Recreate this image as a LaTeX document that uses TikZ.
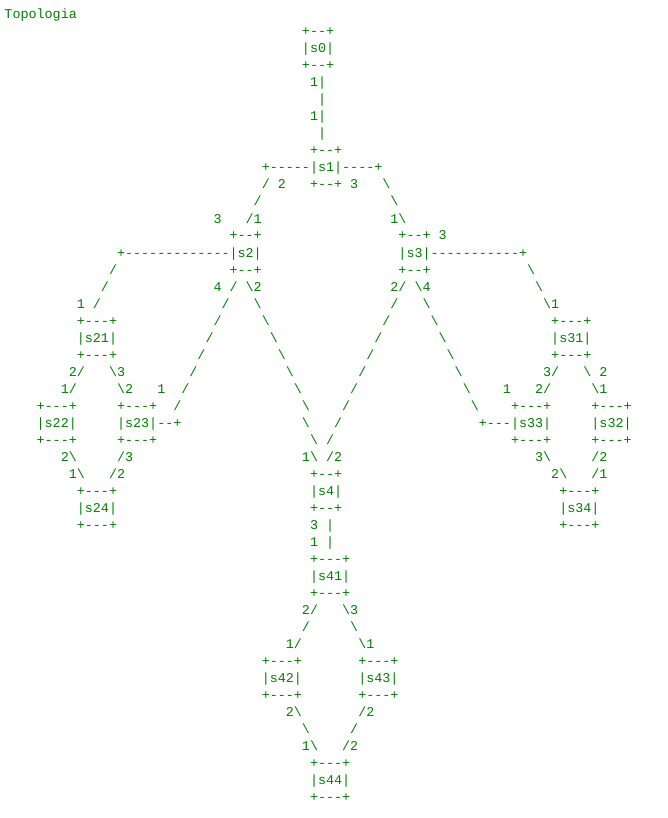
\documentclass[tikz,border=0pt]{standalone}
\usepackage{fontspec}
\setmonofont{Liberation Mono}
\definecolor{asciigreen}{RGB}{0,128,0}
\newcommand\bsl{\textbackslash}
\newcommand\putseg[4]{\node[asc] (#1) at (#2,#3) {#4};}
\tikzset{asc/.style={anchor=base west,inner sep=0pt,outer sep=0pt,text=asciigreen,
  font=\ttfamily\fontsize{13.4}{17}\selectfont}}
\begin{document}
\begin{tikzpicture}
\useasboundingbox[fill=white] (0pt,0pt) rectangle (667pt,-818pt);
\begin{scope}[x=8.04pt,y=-17pt,shift={(4.5pt,-19pt)}]
\putseg{t0}{0}{0}{Topologia}
\putseg{b0t}{37}{1}{+--+}
\putseg{s0}{37}{2}{|s0|}
\putseg{b0b}{37}{3}{+--+}
\putseg{n4}{38}{4}{1|}
\putseg{n5}{39}{5}{|}
\putseg{n6}{38}{6}{1|}
\putseg{n7}{39}{7}{|}
\putseg{b1t}{38}{8}{+--+}
\putseg{s1}{32}{9}{+-----|s1|----+}
\putseg{n10a}{32}{10}{/}
\putseg{n10b}{34}{10}{2}
\putseg{b1b}{38}{10}{+--+}
\putseg{n10c}{43}{10}{3}
\putseg{n10d}{47}{10}{\bsl}
\putseg{n11a}{31}{11}{/}
\putseg{n11b}{48}{11}{\bsl}
\putseg{n12a}{26}{12}{3}
\putseg{n12b}{30}{12}{/1}
\putseg{n12c}{48}{12}{1\bsl}
\putseg{b2t}{28}{13}{+--+}
\putseg{b3t}{49}{13}{+--+}
\putseg{n13a}{54}{13}{3}
\putseg{s2}{14}{14}{+-------------|s2|}
\putseg{s3}{49}{14}{|s3|-----------+}
\putseg{n15a}{13}{15}{/}
\putseg{b2b}{28}{15}{+--+}
\putseg{b3b}{49}{15}{+--+}
\putseg{n15b}{65}{15}{\bsl}
\putseg{n16a}{12}{16}{/}
\putseg{n16b}{26}{16}{4}
\putseg{n16c}{28}{16}{/}
\putseg{n16d}{30}{16}{\bsl2}
\putseg{n16e}{48}{16}{2/}
\putseg{n16f}{51}{16}{\bsl4}
\putseg{n16g}{66}{16}{\bsl}
\putseg{n17a}{9}{17}{1}
\putseg{n17b}{11}{17}{/}
\putseg{n17c}{27}{17}{/}
\putseg{n17d}{31}{17}{\bsl}
\putseg{n17e}{48}{17}{/}
\putseg{n17f}{52}{17}{\bsl}
\putseg{n17g}{67}{17}{\bsl1}
\putseg{b21t}{9}{18}{+---+}
\putseg{n18a}{26}{18}{/}
\putseg{n18b}{32}{18}{\bsl}
\putseg{n18c}{47}{18}{/}
\putseg{n18d}{53}{18}{\bsl}
\putseg{b31t}{68}{18}{+---+}
\putseg{s21}{9}{19}{|s21|}
\putseg{n19a}{25}{19}{/}
\putseg{n19b}{33}{19}{\bsl}
\putseg{n19c}{46}{19}{/}
\putseg{n19d}{54}{19}{\bsl}
\putseg{s31}{68}{19}{|s31|}
\putseg{b21b}{9}{20}{+---+}
\putseg{n20a}{24}{20}{/}
\putseg{n20b}{34}{20}{\bsl}
\putseg{n20c}{45}{20}{/}
\putseg{n20d}{55}{20}{\bsl}
\putseg{b31b}{68}{20}{+---+}
\putseg{n21a}{8}{21}{2/}
\putseg{n21b}{13}{21}{\bsl3}
\putseg{n21c}{23}{21}{/}
\putseg{n21d}{35}{21}{\bsl}
\putseg{n21e}{44}{21}{/}
\putseg{n21f}{56}{21}{\bsl}
\putseg{n21g}{67}{21}{3/}
\putseg{n21h}{72}{21}{\bsl}
\putseg{n21i}{74}{21}{2}
\putseg{n22a}{7}{22}{1/}
\putseg{n22b}{14}{22}{\bsl2}
\putseg{n22c}{19}{22}{1}
\putseg{n22d}{22}{22}{/}
\putseg{n22e}{36}{22}{\bsl}
\putseg{n22f}{43}{22}{/}
\putseg{n22g}{57}{22}{\bsl}
\putseg{n22h}{62}{22}{1}
\putseg{n22i}{66}{22}{2/}
\putseg{n22j}{73}{22}{\bsl1}
\putseg{b22t}{4}{23}{+---+}
\putseg{b23t}{14}{23}{+---+}
\putseg{n23a}{21}{23}{/}
\putseg{n23b}{37}{23}{\bsl}
\putseg{n23c}{42}{23}{/}
\putseg{n23d}{58}{23}{\bsl}
\putseg{b33t}{63}{23}{+---+}
\putseg{b32t}{73}{23}{+---+}
\putseg{s22}{4}{24}{|s22|}
\putseg{s23}{14}{24}{|s23|--+}
\putseg{n24a}{37}{24}{\bsl}
\putseg{n24b}{41}{24}{/}
\putseg{s33}{59}{24}{+---|s33|}
\putseg{s32}{73}{24}{|s32|}
\putseg{b22b}{4}{25}{+---+}
\putseg{b23b}{14}{25}{+---+}
\putseg{n25a}{38}{25}{\bsl}
\putseg{n25b}{40}{25}{/}
\putseg{b33b}{63}{25}{+---+}
\putseg{b32b}{73}{25}{+---+}
\putseg{n26a}{7}{26}{2\bsl}
\putseg{n26b}{14}{26}{/3}
\putseg{n26c}{37}{26}{1\bsl}
\putseg{n26d}{40}{26}{/2}
\putseg{n26e}{66}{26}{3\bsl}
\putseg{n26f}{73}{26}{/2}
\putseg{n27a}{8}{27}{1\bsl}
\putseg{n27b}{13}{27}{/2}
\putseg{b4t}{38}{27}{+--+}
\putseg{n27c}{68}{27}{2\bsl}
\putseg{n27d}{73}{27}{/1}
\putseg{b24t}{9}{28}{+---+}
\putseg{s4}{38}{28}{|s4|}
\putseg{b34t}{69}{28}{+---+}
\putseg{s24}{9}{29}{|s24|}
\putseg{b4b}{38}{29}{+--+}
\putseg{s34}{69}{29}{|s34|}
\putseg{b24b}{9}{30}{+---+}
\putseg{n30a}{38}{30}{3}
\putseg{n30b}{40}{30}{|}
\putseg{b34b}{69}{30}{+---+}
\putseg{n31a}{38}{31}{1}
\putseg{n31b}{40}{31}{|}
\putseg{b41t}{38}{32}{+---+}
\putseg{s41}{38}{33}{|s41|}
\putseg{b41b}{38}{34}{+---+}
\putseg{n35a}{37}{35}{2/}
\putseg{n35b}{42}{35}{\bsl3}
\putseg{n36a}{37}{36}{/}
\putseg{n36b}{43}{36}{\bsl}
\putseg{n37a}{35}{37}{1/}
\putseg{n37b}{44}{37}{\bsl1}
\putseg{b42t}{32}{38}{+---+}
\putseg{b43t}{44}{38}{+---+}
\putseg{s42}{32}{39}{|s42|}
\putseg{s43}{44}{39}{|s43|}
\putseg{b42b}{32}{40}{+---+}
\putseg{b43b}{44}{40}{+---+}
\putseg{n41a}{35}{41}{2\bsl}
\putseg{n41b}{44}{41}{/2}
\putseg{n42a}{37}{42}{\bsl}
\putseg{n42b}{43}{42}{/}
\putseg{n43a}{37}{43}{1\bsl}
\putseg{n43b}{42}{43}{/2}
\putseg{b44t}{38}{44}{+---+}
\putseg{s44}{38}{45}{|s44|}
\putseg{b44b}{38}{46}{+---+}
\end{scope}
\end{tikzpicture}
\end{document}
